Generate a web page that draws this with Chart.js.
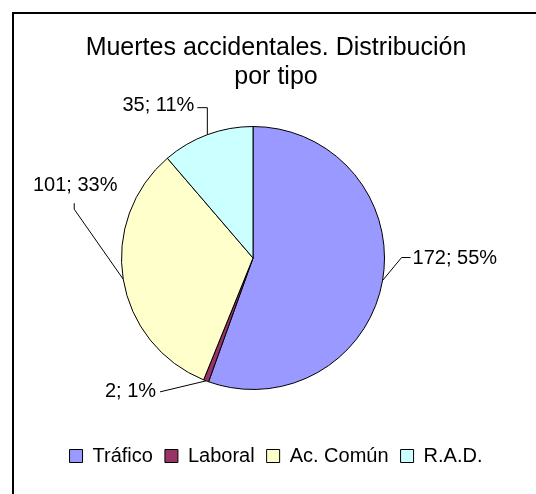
<!DOCTYPE html>
<html>
<head>
<meta charset="utf-8">
<script src="https://cdn.jsdelivr.net/npm/chart.js@4.4.0/dist/chart.umd.min.js"></script>
<style>
    html, body { margin: 0; padding: 0; background: #fff; }
    #wrap { width: 536px; height: 494px; }
</style>
</head>
<body>
<div id="wrap"><canvas id="pie-chart"></canvas></div>
<script>
const categories = ['Tráfico', 'Laboral', 'Ac. Común', 'R.A.D.'];
const deaths = [172, 2, 101, 35];
const sliceColors = ['#9999ff', '#993366', '#ffffcc', '#ccffff'];
const titleLines = ['Muertes accidentales. Distribución', 'por tipo'];

// leader line bends and text spot, relative to the point on the slice edge
const labelLayout = [
    { path: [[19, -23], [28, -23]], text: [30, -22], align: 'left' },   // Tráfico
    { path: [[-46, 11]], text: [-50, 11], align: 'right' },             // Laboral
    { path: [[-49, -70], [-49, -76]], text: [-48, -94], align: 'center' }, // Ac. Común
    { path: [[0, -27], [-10, -27]], text: [-13, -29], align: 'right' }  // R.A.D.
];

Chart.defaults.font.family = '"Liberation Sans", Arial, sans-serif';
Chart.defaults.color = '#000';

// outer frame, open to the right and bottom like the original
const frame = {
    id: 'frame',
    beforeDraw(chart) {
        const ctx = chart.ctx;
        ctx.save();
        ctx.strokeStyle = '#000';
        ctx.lineWidth = 2;
        ctx.strokeRect(13, 13, chart.width, chart.height);
        ctx.restore();
    }
};

// pie sits left of the title/legend centre
const pieArea = {
    id: 'pieArea',
    afterLayout(chart) {
        const a = chart.chartArea;
        a.left = 121; a.right = 385;
        a.top = 126; a.bottom = 390;
        a.width = a.right - a.left;
        a.height = a.bottom - a.top;
    }
};

const sliceLabels = {
    id: 'sliceLabels',
    afterDatasetsDraw(chart) {
        const ctx = chart.ctx;
        const total = deaths.reduce((s, v) => s + v, 0);
        ctx.save();
        ctx.strokeStyle = '#000';
        ctx.lineWidth = 1;
        ctx.fillStyle = '#000';
        ctx.font = '20px "Liberation Sans", Arial, sans-serif';
        ctx.textBaseline = 'middle';
        chart.getDatasetMeta(0).data.forEach((arc, i) => {
            const { x, y, startAngle, endAngle, outerRadius } =
                arc.getProps(['x', 'y', 'startAngle', 'endAngle', 'outerRadius'], true);
            const mid = (startAngle + endAngle) / 2;
            const ax = x + Math.cos(mid) * outerRadius;
            const ay = y + Math.sin(mid) * outerRadius;
            const lay = labelLayout[i];
            ctx.beginPath();
            ctx.moveTo(ax, ay);
            lay.path.forEach(([dx, dy]) => ctx.lineTo(ax + dx, ay + dy));
            ctx.stroke();
            ctx.textAlign = lay.align;
            const pct = Math.round(deaths[i] / total * 100);
            ctx.fillText(`${deaths[i]}; ${pct}%`, ax + lay.text[0], ay + lay.text[1]);
        });
        ctx.restore();
    }
};

new Chart(document.getElementById('pie-chart'), {
    type: 'pie',
    data: {
        labels: categories,
        datasets: [{
            data: deaths,
            backgroundColor: sliceColors,
            borderColor: '#000',
            borderWidth: 1,
            clip: false
        }]
    },
    options: {
        responsive: true,
        maintainAspectRatio: false,
        animation: false,
        layout: { padding: { left: 16, right: 0, top: 0, bottom: 18 } },
        plugins: {
            title: {
                display: true,
                text: titleLines,
                color: '#000',
                font: { size: 25, weight: 'normal', lineHeight: 1.16 },
                padding: { top: 34, bottom: 0 }
            },
            legend: {
                position: 'bottom',
                labels: {
                    boxWidth: 13,
                    boxHeight: 13,
                    padding: 12,
                    color: '#000',
                    font: { size: 20 }
                }
            },
            tooltip: { enabled: false }
        }
    },
    plugins: [frame, pieArea, sliceLabels]
});
</script>
</body>
</html>
